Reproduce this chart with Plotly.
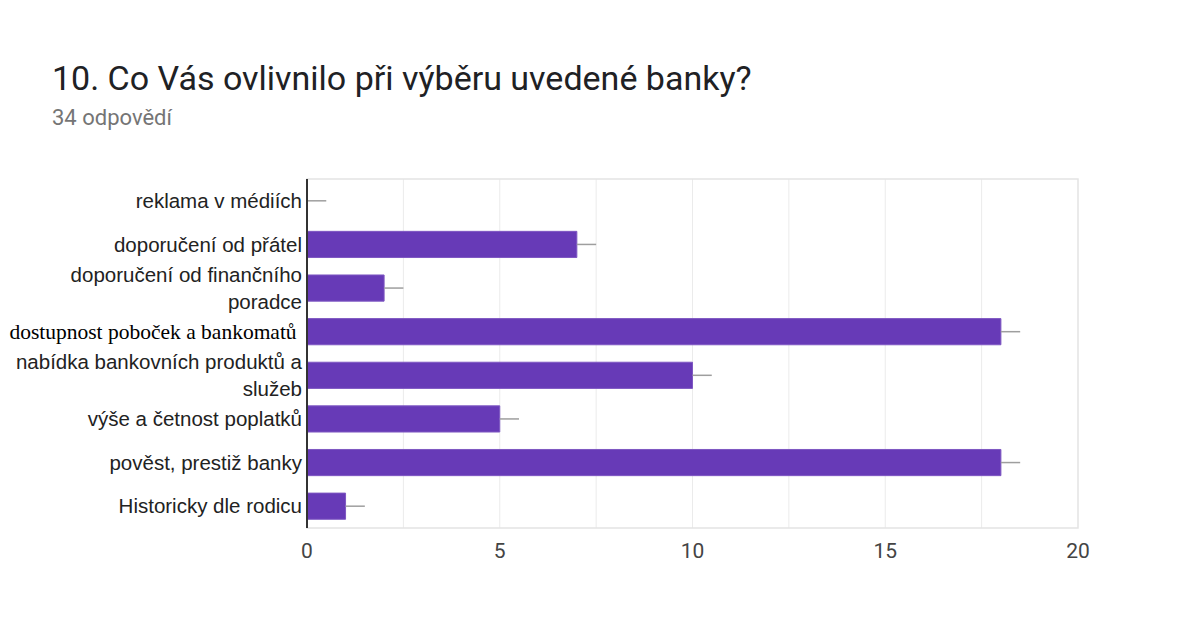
import plotly.graph_objects as go

# Survey answers, listed top to bottom
categories = [
    "reklama v médiích",
    "doporučení od přátel",
    "doporučení od finančního<br>poradce",
    '<span style="font-family:\'Liberation Serif\', serif; font-size:21.5px; color:#000">dostupnost poboček a bankomatů </span>',
    "nabídka bankovních produktů a<br>služeb",
    "výše a četnost poplatků",
    "pověst, prestiž banky",
    "Historicky dle rodicu",
]
counts = [0, 7, 2, 18, 10, 5, 18, 1]
x_ticks = [0, 5, 10, 15, 20]

W, H = 1195, 624
L, R, T, B = 307, 117, 179, 96
plot_w = W - L - R

fig = go.Figure(
    go.Bar(
        y=list(range(len(categories))),
        x=counts,
        orientation="h",
        width=0.6,
        marker=dict(color="#673ab7", line=dict(color="#7e57c2", width=1)),
        error_x=dict(
            type="data",
            symmetric=False,
            array=[0.5] * len(counts),
            arrayminus=[0] * len(counts),
            color="#9e9e9e",
            thickness=1.5,
            width=0,
        ),
        hoverinfo="x+y",
    )
)

fig.update_layout(
    width=W,
    height=H,
    margin=dict(l=L, r=R, t=T, b=B, pad=0, autoexpand=False),
    paper_bgcolor="#ffffff",
    plot_bgcolor="#ffffff",
    showlegend=False,
    font=dict(family="Liberation Sans, Arial, sans-serif", size=20.5, color="#222222"),
    bargap=0.4,
    xaxis=dict(
        range=[0, 20],
        tickvals=x_ticks,
        ticktext=[str(v) for v in x_ticks],
        tickfont=dict(size=21, color="#444444", family="Roboto, sans-serif"),
        showgrid=False,
        zeroline=False,
        showline=False,
        ticks="",
        ticklabelstandoff=8,
        automargin=False,
    ),
    yaxis=dict(
        tickvals=list(range(len(categories))),
        ticktext=categories,
        range=[len(categories) - 0.5, -0.5],
        showgrid=False,
        zeroline=False,
        showline=False,
        ticks="",
        ticklabelstandoff=4,
        tickfont=dict(size=20.5, color="#222222"),
        automargin=False,
    ),
)

# light gridlines every 2.5 units
shapes = []
for i in range(1, 8):
    xv = i * 2.5
    shapes.append(dict(type="line", xref="x", yref="paper", x0=xv, x1=xv, y0=0, y1=1,
                       line=dict(color="#ebebeb", width=1), layer="below"))
# plot frame
shapes.append(dict(type="rect", xref="paper", yref="paper", x0=0, x1=1, y0=0, y1=1,
                   line=dict(color="#e4e4e4", width=1.5), layer="below"))
# dark baseline on the left
shapes.append(dict(type="line", xref="paper", yref="paper", x0=0, x1=0, y0=0, y1=1,
                   line=dict(color="#333333", width=2), layer="above"))
fig.update_layout(shapes=shapes)

fig.add_annotation(
    text="10. Co Vás ovlivnilo při výběru uvedené banky?",
    xref="paper", yref="paper",
    x=(50 - L) / plot_w, y=1 + (T - 78) / (H - T - B),
    xanchor="left", yanchor="middle", showarrow=False,
    font=dict(family="Roboto, sans-serif", size=34, color="#202124"),
)
fig.add_annotation(
    text="34 odpovědí",
    xref="paper", yref="paper",
    x=(50 - L) / plot_w, y=1 + (T - 118) / (H - T - B),
    xanchor="left", yanchor="middle", showarrow=False,
    font=dict(family="Roboto, sans-serif", size=22, color="#757575"),
)

fig.write_html("out.html")
